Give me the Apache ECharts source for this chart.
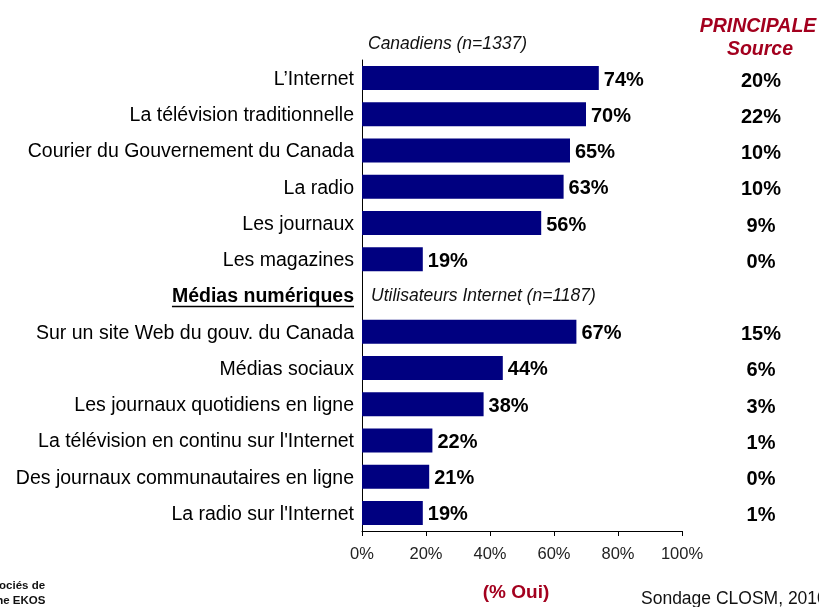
<!DOCTYPE html>
<html>
<head>
<meta charset="utf-8">
<script src="https://cdn.jsdelivr.net/npm/echarts@6/dist/echarts.min.js"></script>
<style>
  html, body { margin: 0; padding: 0; background: #fff; }
  #chart { width: 819px; height: 607px; }
</style>
</head>
<body>
<div id="chart"></div>
<script>
// Sources of information: share who use each source, and share naming it their main source
const categories = [
  "L\u2019Internet",
  "La télévision traditionnelle",
  "Courier du Gouvernement du Canada",
  "La radio",
  "Les journaux",
  "Les magazines",
  "Médias numériques",
  "Sur un site Web du gouv. du Canada",
  "Médias sociaux",
  "Les journaux quotidiens en ligne",
  "La télévision en continu sur l'Internet",
  "Des journaux communautaires en ligne",
  "La radio sur l'Internet"
];
const usedPct = [74, 70, 65, 63, 56, 19, null, 67, 44, 38, 22, 21, 19];
const mainSourcePct = [20, 22, 10, 10, 9, 0, null, 15, 6, 3, 1, 0, 1];
const xTicks = [0, 20, 40, 60, 80, 100];
const sectionHeader = "Médias numériques";

const FONT = "'Liberation Sans', Arial, sans-serif";
const RED = "#A3001E";
const LABEL_MARGIN = 8;

const chart = echarts.init(document.getElementById('chart'), null, { renderer: 'canvas' });

const option = {
  animation: false,
  backgroundColor: '#ffffff',
  grid: { left: 362, right: 137, top: 60, bottom: 76, containLabel: false },
  xAxis: {
    type: 'value',
    min: xTicks[0],
    max: xTicks[xTicks.length - 1],
    interval: xTicks[1] - xTicks[0],
    axisLine: { show: true, lineStyle: { color: '#000', width: 1 } },
    axisTick: { show: true, length: 5, lineStyle: { color: '#000' } },
    splitLine: { show: false },
    axisLabel: {
      formatter: '{value}%',
      color: '#222',
      fontFamily: FONT,
      fontSize: 16.5,
      margin: 15
    }
  },
  yAxis: [
    {
      type: 'category',
      data: categories,
      inverse: true,
      axisLine: { show: true, lineStyle: { color: '#000', width: 1 } },
      axisTick: { show: false },
      axisLabel: {
        color: '#000',
        fontFamily: FONT,
        fontSize: 19.5,
        margin: LABEL_MARGIN,
        padding: [3, 0, 0, 0],
        formatter: function (v) {
          return v === sectionHeader ? '{h|' + v + '}' : v;
        },
        rich: {
          h: { fontWeight: 'bold', fontSize: 19.5, fontFamily: FONT, color: '#000' }
        }
      }
    },
    {
      type: 'category',
      data: categories,
      inverse: true,
      position: 'right',
      axisLine: { show: false },
      axisTick: { show: false },
      axisLabel: {
        align: 'center',
        margin: 79,
        formatter: function (v, i) {
          const p = mainSourcePct[i];
          return p === null || p === undefined ? '' : '{v|' + p + '%}';
        },
        rich: {
          v: {
            color: '#000',
            fontFamily: FONT,
            fontSize: 20,
            fontWeight: 'bold',
            padding: [6, 0, 0, 0]
          }
        }
      }
    }
  ],
  series: [
    {
      type: 'bar',
      data: usedPct,
      yAxisIndex: 0,
      barWidth: 24,
      itemStyle: { color: '#000080' },
      label: {
        show: true,
        position: 'right',
        distance: 5,
        offset: [0, 2],
        formatter: function (p) { return p.value === null ? '' : p.value + '%'; },
        color: '#000',
        fontFamily: FONT,
        fontSize: 20,
        fontWeight: 'bold'
      }
    }
  ],
  graphic: [
    {
      type: 'text', left: 368, top: 35,
      style: { text: 'Canadiens (n=1337)', font: 'italic 17.5px ' + FONT, fill: '#111' }
    },
    {
      type: 'text', left: 371, top: 287,
      style: { text: 'Utilisateurs Internet (n=1187)', font: 'italic 17.5px ' + FONT, fill: '#111' }
    },
    {
      type: 'text', x: 758, y: 27,
      style: { text: 'PRINCIPALE', font: 'italic bold 19.5px ' + FONT, fill: RED, align: 'center', verticalAlign: 'middle' }
    },
    {
      type: 'text', x: 760, y: 50,
      style: { text: 'Source', font: 'italic bold 19.5px ' + FONT, fill: RED, align: 'center', verticalAlign: 'middle' }
    },
    {
      type: 'text', x: 516, y: 593,
      style: { text: '(% Oui)', font: 'bold 19px ' + FONT, fill: RED, align: 'center', verticalAlign: 'middle' }
    },
    {
      type: 'text', x: 641, y: 599,
      style: { text: 'Sondage CLOSM, 2010', font: '17.5px ' + FONT, fill: '#111', verticalAlign: 'middle' }
    },
    {
      type: 'text', x: 0, y: 578,
      style: {
        text: 'Les Associés de\nrecherche EKOS',
        font: 'bold 11.5px ' + FONT, fill: '#111',
        align: 'center', lineHeight: 15
      }
    }
  ]
};

chart.setOption(option);

// underline under the section header label of the category axis
(function () {
  const idx = categories.indexOf(sectionHeader);
  const pt = chart.convertToPixel({ gridIndex: 0 }, [0, idx]);
  const ctx = document.createElement('canvas').getContext('2d');
  ctx.font = 'bold 19.5px ' + FONT;
  const w = ctx.measureText(sectionHeader).width;
  const xEnd = pt[0] - LABEL_MARGIN;
  const y = pt[1] + 11;
  chart.setOption({
    graphic: option.graphic.concat([{
      type: 'line',
      shape: { x1: xEnd - w, y1: y, x2: xEnd, y2: y },
      style: { stroke: '#000', lineWidth: 1.5 }
    }])
  });
})();
</script>
</body>
</html>
